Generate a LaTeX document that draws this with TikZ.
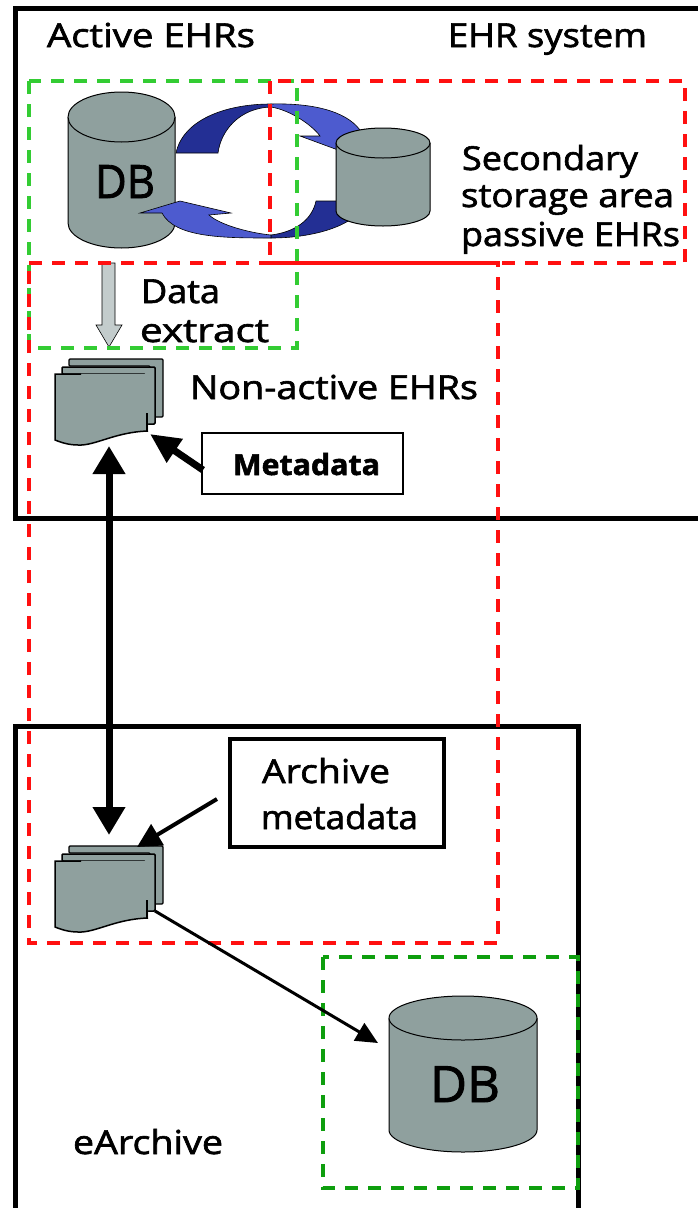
\documentclass[tikz,border=0pt]{standalone}
\usepackage{fontspec}
\setmainfont{Open Sans}[RawFeature={embolden=1.8}]
\usetikzlibrary{arrows.meta}
\definecolor{cylgray}{HTML}{8FA09E}
\definecolor{darkblue}{HTML}{232F94}
\definecolor{lightblue}{HTML}{4D5BCF}
\definecolor{redd}{HTML}{FF1010}
\definecolor{greenl}{HTML}{33CC33}
\definecolor{greend}{HTML}{0E9E0E}
\definecolor{extractfill}{HTML}{C3CCCC}
\newcommand{\fitw}[2]{\resizebox{#1pt}{\height}{#2}}
\tikzset{
  lbl/.style={anchor=base west,inner sep=0pt,outer sep=0pt,text=black,font=\fontsize{33}{36}\selectfont},
  bigbox/.style={draw=black,line width=5pt},
  reddash/.style={draw=redd,line width=4.2pt,dash pattern=on 13pt off 10pt},
  greendash/.style={draw=greenl,line width=4.2pt,dash pattern=on 13pt off 10pt},
  greendashd/.style={draw=greend,line width=4.2pt,dash pattern=on 13pt off 10pt},
  cylbody/.style={fill=cylgray,draw=black,line width=1pt},
  arcdark/.style={fill=darkblue,draw=black,line width=.6pt},
  arclight/.style={fill=lightblue,draw=black,line width=.6pt},
}
\newcommand{\cyl}[6]{% left right ytop(centre) ry ybottom(centre) name
  \path[cylbody] (#1,#3) -- (#1,#5) arc[start angle=180,end angle=0,x radius={(#2-#1)/2},y radius=#4]
     -- (#2,#3) arc[start angle=0,end angle=-180,x radius={(#2-#1)/2},y radius=#4] -- cycle;
  \path[cylbody] (#1,#3) arc[start angle=180,end angle=0,x radius={(#2-#1)/2},y radius=#4];
  \coordinate (#6) at ({(#1+#2)/2},{(#3+#5)/2});
}
\newcommand{\docicon}[1]{%
\begin{scope}[yshift=#1*-1pt]
  \path[fill=cylgray,draw=black,line width=1.3pt,rounded corners=1pt] (69,366) -- (69,359) -- (163,359) -- (163,417) -- (150,417) -- (150,366) -- cycle;
  \path[fill=cylgray,draw=black,line width=1.5pt,rounded corners=1pt] (62,374) -- (62,367) -- (155,367) -- (155,424) -- (145,424) -- (145,374) -- cycle;
  \fill[cylgray] (55,374) -- (148,374) -- (148,431) .. controls (115,432) and (95,446) .. (78,445) .. controls (68,445) and (60,442) .. (55,440) -- cycle;
  \draw[black,line width=1.5pt] (81,374) -- (55,374) -- (55,440) .. controls (60,442) and (68,445) .. (78,445) .. controls (95,446) and (115,432) .. (148,431);
  \draw[black,line width=1.5pt] (147,413) -- (147,431);
\end{scope}}
\begin{document}
\begin{tikzpicture}[x=1pt,y=-1pt]
\useasboundingbox (0,0) rectangle (697,1208);
% outer boxes
\draw[bigbox] (700,8) -- (15,8) -- (15,518) -- (700,518);
\draw[bigbox] (15,1212) -- (15,726) -- (578,726) -- (578,1212);
% blue arcs
\path[arcdark] (176,153) .. controls (183,120) and (225,104) .. (271,104) -- (271,107) .. controls (240,108) and (221,130) .. (218,153) -- cycle;
\path[arclight] (271,104) .. controls (310,103) and (345,110) .. (360,130) -- (338,150) -- (300,136) -- (320,136) .. controls (312,125) and (290,110) .. (271,107) -- cycle;
\path[arcdark] (336,201) -- (364,201) .. controls (362,222) and (320,238) .. (271,238) -- (271,235) .. controls (295,232) and (312,220) .. (316,201) -- cycle;
% cylinders
\cyl{68}{175}{117}{25}{223}{dbA}
\cyl{336}{430}{143}{15}{211}{dbB}
\path[arclight] (140,213) -- (180,201) -- (231,213) -- (209,215) .. controls (220,225) and (250,233) .. (271,235) -- (271,238) .. controls (225,238) and (175,238) .. (162,213) -- cycle;
\cyl{389}{537}{1018}{22}{1130}{dbC}
% documents
\docicon{0}
\docicon{487}
\coordinate (docAtop) at (109,446);
\coordinate (docBtop) at (109,835);
\coordinate (docAright) at (150,434);
\coordinate (docBtr) at (137,847);
\coordinate (docBout) at (155,911);
\coordinate (dbCin) at (378,1043);
\coordinate (metaOut) at (203,470);
\coordinate (archOut) at (217,799);
% data extract arrow
\path[fill=extractfill,draw=black,line width=.6pt] (102,263) -- (115,263) -- (115,325) -- (122,325) -- (109,347) -- (96,325) -- (102,325) -- cycle;
% dashed regions
\draw[greendash] (29,81) rectangle (297,348);
\draw[reddash] (270,81) rectangle (685,263);
\draw[reddash] (29,263) -- (498,263) -- (498,943) -- (29,943) -- cycle;
\draw[greendashd] (323,957) rectangle (578,1188);
% boxes
\node[draw=black,line width=1.3pt,minimum width=201pt,minimum height=61pt,inner sep=0pt,outer sep=0pt,anchor=north west] (metabox) at (202,433) {};
\node[draw=black,line width=4pt,minimum width=214pt,minimum height=108pt,inner sep=0pt,outer sep=0pt,anchor=north west] (archbox) at (230,739) {};
% connectors
\draw[{Triangle[length=28pt,width=31pt]}-{Triangle[length=28pt,width=31pt]},line width=7pt] (docBtop) -- (docAtop);
\draw[-{Triangle[length=30pt,width=27pt]},line width=7pt] (metaOut) -- (docAright);
\draw[-{Triangle[length=24pt,width=24pt]},line width=4pt] (archOut) -- (docBtr);
\draw[-{Triangle[length=22pt,width=20pt]},line width=3pt] (docBout) -- (dbCin);
% text
\node[lbl] (t1) at (47,47) {\fitw{208}{Active EHRs}};
\node[lbl] (t2) at (448,47) {\fitw{199}{EHR system}};
\node[lbl] (t3) at (462,170) {\fitw{176}{Secondary}};
\node[lbl] (t4) at (461,207) {\fitw{213}{storage area}};
\node[lbl] (t5) at (461,246) {\fitw{219}{passive EHRs}};
\node[lbl] (t6) at (141,303) {\fitw{79}{Data}};
\node[lbl] (t7) at (140,342) {\fitw{129}{extract}};
\node[lbl] (t8) at (190,399) {\fitw{288}{Non-active EHRs}};
\node[lbl,font=\fontsize{29}{32}\selectfont] (t9) at (233,475) {\fitw{147}{\bfseries Metadata}};
\node[lbl] (t10) at (262,783) {\fitw{128}{Archive}};
\node[lbl] (t11) at (261,829) {\fitw{157}{metadata}};
\node[lbl] (t12) at (73,1154) {\fitw{150}{eArchive}};
\node[lbl,font=\fontsize{46}{50}\selectfont] (t13) at (95,198) {\fitw{60}{DB}};
\node[lbl,font=\fontsize{50}{54}\selectfont] (t14) at (430,1102) {\fitw{70}{DB}};
\end{tikzpicture}
\end{document}
